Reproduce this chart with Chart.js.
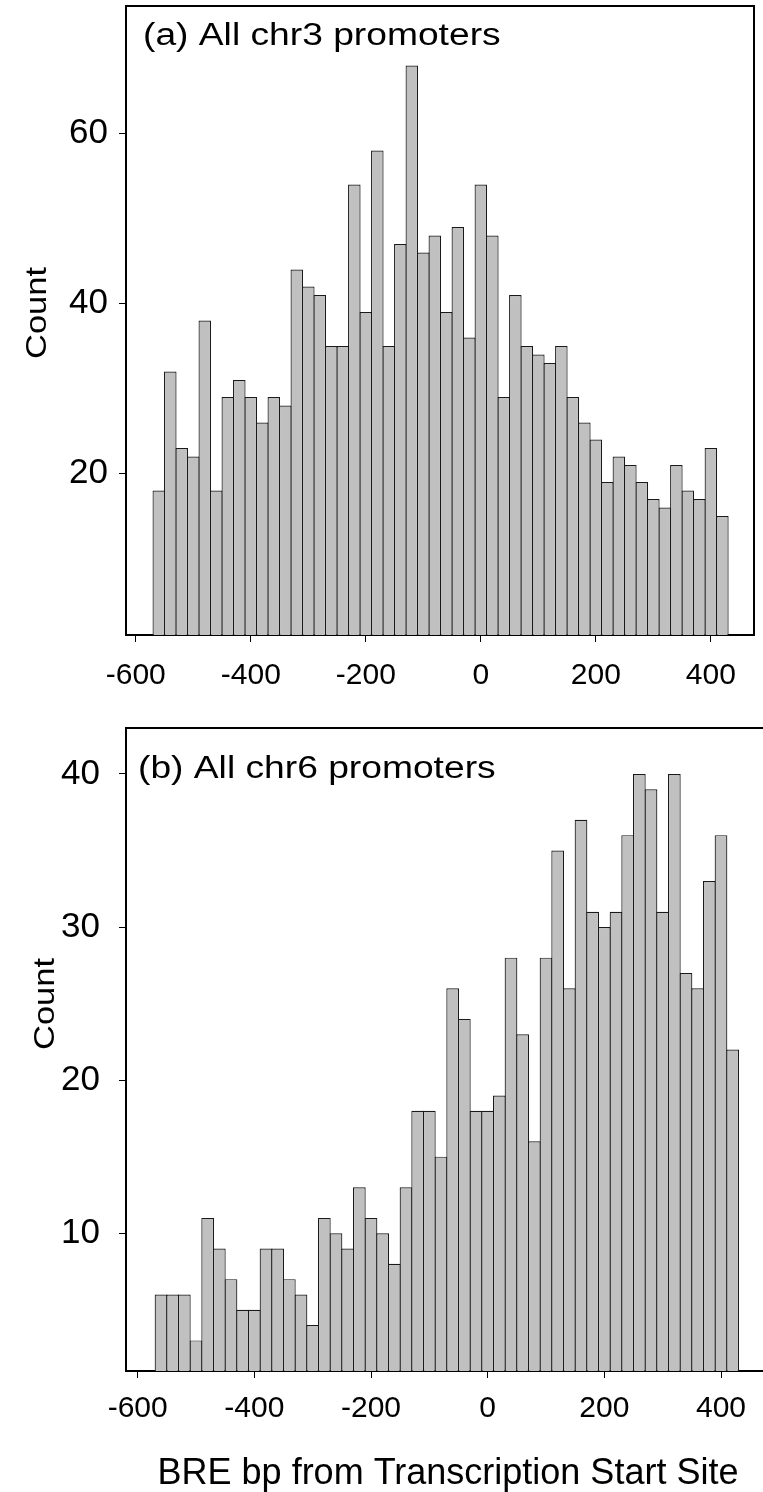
<!DOCTYPE html>
<html>
<head>
<meta charset="utf-8">
<title>BRE position histograms</title>
<script src="https://cdn.jsdelivr.net/npm/chart.js@4.4.1/dist/chart.umd.min.js"></script>
<style>
  html, body { margin: 0; padding: 0; background: #fff; overflow: hidden; }
  canvas { position: absolute; left: 0; }
</style>
</head>
<body>
<canvas id="chartA" width="763" height="700" style="top:0"></canvas>
<canvas id="chartB" width="780" height="792" style="top:700px"></canvas>
<script>
// 20 bp bins, centre of each bin (bp from TSS)
const binCenters = [-560, -540, -520, -500, -480, -460, -440, -420, -400, -380,
  -360, -340, -320, -300, -280, -260, -240, -220, -200, -180,
  -160, -140, -120, -100, -80, -60, -40, -20, 0, 20,
  40, 60, 80, 100, 120, 140, 160, 180, 200, 220,
  240, 260, 280, 300, 320, 340, 360, 380, 400, 420];

// (a) all chr3 promoters
const chr3Counts = [18, 32, 23, 22, 38, 18, 29, 31, 29, 26,
  29, 28, 44, 42, 41, 35, 35, 54, 39, 58,
  35, 47, 68, 46, 48, 39, 49, 36, 54, 48,
  29, 41, 35, 34, 33, 35, 29, 26, 24, 19,
  22, 21, 19, 17, 16, 21, 18, 17, 23, 15];

// (b) all chr6 promoters
const chr6Counts = [6, 6, 6, 3, 11, 9, 7, 5, 5, 9,
  9, 7, 6, 4, 11, 10, 9, 13, 11, 10,
  8, 13, 18, 18, 15, 26, 24, 18, 18, 19,
  28, 23, 16, 28, 35, 26, 37, 31, 30, 31,
  36, 40, 39, 31, 40, 27, 26, 33, 36, 22];

const xTicks = [-600, -400, -200, 0, 200, 400];
const yTicksA = [20, 40, 60];
const yTicksB = [10, 20, 30, 40];

const FONT = "'Liberation Sans', Arial, Helvetica, sans-serif";

// frame lines on top/right plus the in-plot label and the y title
const panelText = {
  id: 'panelText',
  afterDraw(chart, args, opts) {
    const ctx = chart.ctx;
    const a = chart.chartArea;
    ctx.save();
    ctx.strokeStyle = '#000';
    ctx.lineWidth = 2;
    ctx.beginPath();
    ctx.moveTo(a.left, a.top);
    ctx.lineTo(a.right, a.top);
    ctx.lineTo(a.right, a.bottom);
    ctx.stroke();

    ctx.fillStyle = '#000';
    ctx.font = '31px ' + FONT;
    ctx.textBaseline = 'alphabetic';
    ctx.textAlign = 'left';
    ctx.translate(opts.labelX, opts.labelY);
    ctx.scale(1.2, 1);
    ctx.fillText(opts.label, 0, 0);
    ctx.restore();

    ctx.save();
    ctx.fillStyle = '#000';
    ctx.font = '30px ' + FONT;
    ctx.textAlign = 'center';
    ctx.textBaseline = 'middle';
    ctx.translate(opts.countX, opts.countY);
    ctx.rotate(-Math.PI / 2);
    ctx.scale(1.15, 1);
    ctx.fillText('Count', 0, 0);
    ctx.restore();
  }
};

function makeChart(id, counts, cfg) {
  const points = binCenters.map((x, i) => ({ x: x, y: counts[i] }));
  return new Chart(document.getElementById(id), {
    type: 'bar',
    data: {
      datasets: [{
        data: points,
        backgroundColor: '#c0c0c0',
        borderColor: '#1a1a1a',
        borderWidth: 1.2,
        borderSkipped: 'start',
        // slight overlap so neighbouring outlines merge into one line
        barPercentage: 1.09,
        categoryPercentage: 1
      }]
    },
    options: {
      responsive: false,
      animation: false,
      devicePixelRatio: 1,
      layout: { padding: cfg.padding },
      plugins: {
        legend: { display: false },
        tooltip: { enabled: false },
        panelText: cfg.text
      },
      scales: {
        x: {
          type: 'linear',
          min: cfg.xMin,
          max: cfg.xMax,
          offset: false,
          afterBuildTicks: (s) => { s.ticks = xTicks.map(v => ({ value: v })); },
          afterFit: (s) => {
            s.height = cfg.xHeight;
            s.paddingLeft = 0;
            s.paddingRight = 0;
          },
          grid: { drawOnChartArea: false, drawTicks: true, tickLength: 7, color: '#000', lineWidth: 1, offset: false },
          border: { display: true, color: '#000', width: 2 },
          ticks: {
            color: '#000',
            font: { family: FONT, size: 30 },
            padding: cfg.xPad,
            maxRotation: 0,
            autoSkip: false
          },
          title: cfg.xTitle ? {
            display: true,
            text: cfg.xTitle,
            color: '#000',
            font: { family: FONT, size: 36, lineHeight: 1 },
            padding: { top: 0, bottom: 0 }
          } : { display: false }
        },
        y: {
          min: 1,
          max: cfg.yMax,
          afterBuildTicks: (s) => { s.ticks = cfg.yTicks.map(v => ({ value: v })); },
          afterFit: (s) => {
            s.width = 126;
            s.paddingTop = 0;
            s.paddingBottom = 0;
          },
          grid: { drawOnChartArea: false, drawTicks: true, tickLength: 7, color: '#000', lineWidth: 1 },
          border: { display: true, color: '#000', width: 2 },
          ticks: {
            color: '#000',
            font: { family: FONT, size: 35 },
            padding: cfg.yPad
          }
        }
      }
    },
    plugins: [panelText]
  });
}

makeChart('chartA', chr3Counts, {
  padding: { top: 6, right: 9, left: 0, bottom: 0 },
  xMin: -617, xMax: 475, xHeight: 65, xPad: 16,
  yMax: 75, yTicks: yTicksA, yPad: 11,
  text: { label: '(a) All chr3 promoters', labelX: 143, labelY: 45, countX: 38, countY: 313 }
});

makeChart('chartB', chr6Counts, {
  padding: { top: 28, right: 10, left: 0, bottom: 0 },
  xMin: -620, xMax: 484, xHeight: 121, xPad: 13,
  xTitle: 'BRE bp from Transcription Start Site',
  yMax: 43, yTicks: yTicksB, yPad: 19,
  text: { label: '(b) All chr6 promoters', labelX: 138, labelY: 78, countX: 46, countY: 304 }
});
</script>
</body>
</html>
